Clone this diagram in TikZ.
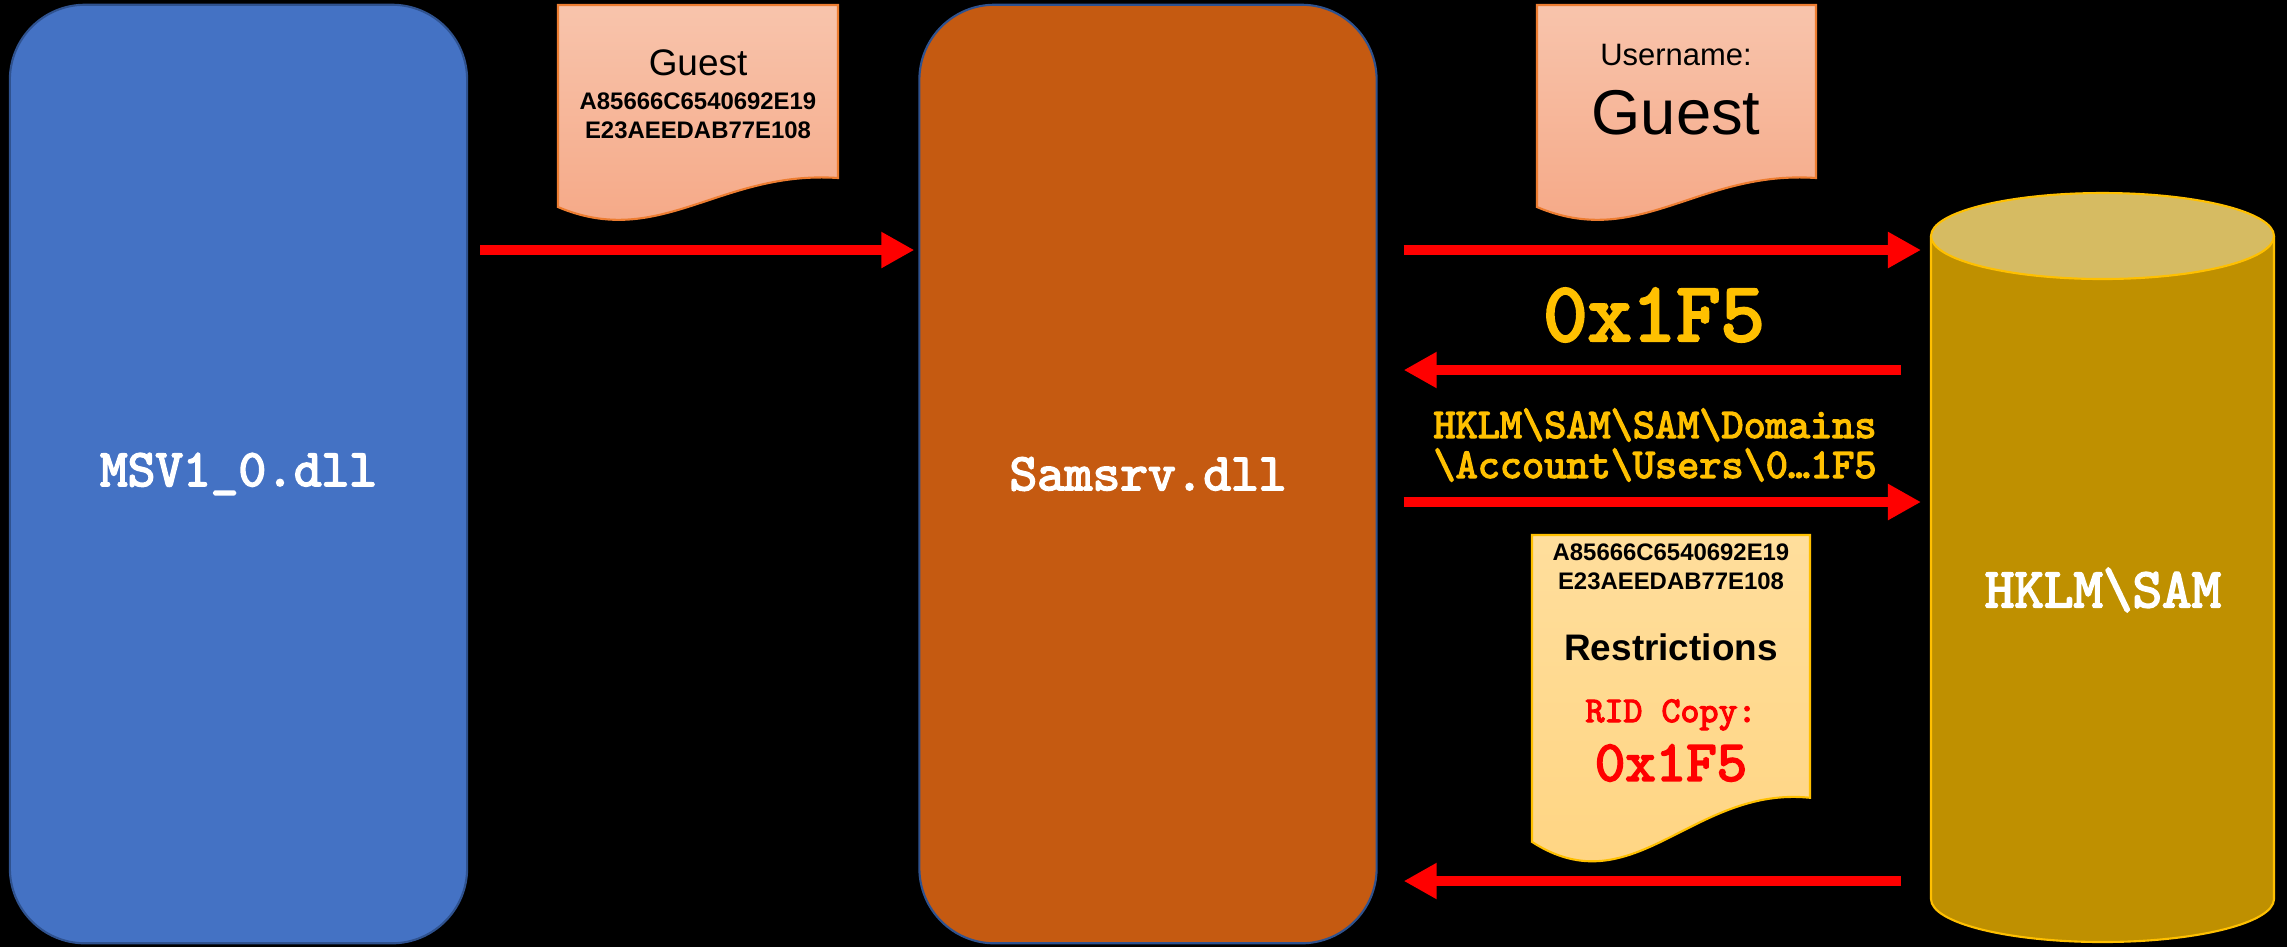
\documentclass[tikz,border=0pt]{standalone}
\usepackage{fontspec}
\setmainfont{Liberation Sans}
\newfontfamily\monobold{lmmono10-regular.otf}[FakeBold=3.2]
\usetikzlibrary{arrows.meta}

\definecolor{msvblue}{HTML}{4472C4}
\definecolor{boxedge}{HTML}{2F528F}
\definecolor{samorange}{HTML}{C55A11}
\definecolor{notetop}{HTML}{F8C4AC}
\definecolor{notebottom}{HTML}{F5A683}
\definecolor{noteedge}{HTML}{ED7D31}
\definecolor{ridtop}{HTML}{FFDE9C}
\definecolor{ridbottom}{HTML}{FFD480}
\definecolor{goldedge}{HTML}{FFC000}
\definecolor{cylbody}{HTML}{BF9000}
\definecolor{cyltop}{HTML}{D6BB62}
\definecolor{keyyellow}{HTML}{FFC000}
\definecolor{arrowred}{HTML}{FF0000}

\tikzset{every path/.style={line width=0.6pt}}
\tikzset{
  dllbox/.style={draw=boxedge, rounded corners=0.75cm, minimum width=4.57cm,
    minimum height=9.38cm, text=white, font=\monobold\fontsize{15}{18}\selectfont},
  flow/.style={draw=arrowred, line width=3.1pt, -{Triangle[length=0.33cm,width=0.34cm]}},
  hashtxt/.style={font=\bfseries\fontsize{6.8}{8}\selectfont, inner sep=0pt},
  pathtxt/.style={text=keyyellow, font=\monobold\fontsize{12}{14}\selectfont, inner sep=0pt}
}

% document sheet: left, top, width, height (to lowest point of the wave), style
\newcommand\docsheet[5]{%
  \begin{scope}[shift={(#1,#2)},x={(#3*0.01cm,0cm)},y={(0cm,-#4*0.01cm)}]
    \shadedraw[#5] (0,0) -- (1,0) -- (1,0.816) .. controls (0.579,0.778) and (0.364,1.156) .. (0,0.953) -- cycle;
  \end{scope}}

\begin{document}
\begin{tikzpicture}[x=0.01cm,y=-0.01cm]
\fill[black] (0,0) rectangle (2287,947);
\useasboundingbox (0,0) rectangle (2287,947);

\node[dllbox, fill=msvblue] (msv) at (238.5,474) {MSV1\_0.dll};
\node[dllbox, fill=samorange] (samsrv) at (1148,474) {Samsrv.dll};

% SAM hive
\fill[cylbody] (1931,236) -- (1931,899) arc[start angle=180,end angle=0,x radius=171.5,y radius=43] -- (2274,236) -- cycle;
\draw[goldedge] (1931,236) -- (1931,899) arc[start angle=180,end angle=0,x radius=171.5,y radius=43] -- (2274,236);
\filldraw[fill=cyltop, draw=goldedge] (2102.5,236) ellipse[x radius=171.5,y radius=43];
\coordinate (hive) at (1931,474);
\node[text=white, font=\monobold\fontsize{16}{18}\selectfont] (sam) at (2103,590) {HKLM\textbackslash SAM};

% notes
\docsheet{558}{5}{280}{212}{top color=notetop, bottom color=notebottom, draw=noteedge}
\node[font=\fontsize{10.5}{12}\selectfont] (guest) at (698,63) {Guest};
\node[hashtxt] (hasha) at (698,101) {A85666C6540692E19};
\node[hashtxt] (hashb) at (698,130) {E23AEEDAB77E108};

\docsheet{1537}{5}{279}{212}{top color=notetop, bottom color=notebottom, draw=noteedge}
\node[font=\fontsize{8.8}{10}\selectfont] (uname) at (1676,55) {Username:};
\node[font=\fontsize{18}{20}\selectfont] (uguest) at (1676,113) {Guest};

\docsheet{1532}{535}{278}{322}{top color=ridtop, bottom color=ridbottom, draw=goldedge}
\node[hashtxt] (rhasha) at (1671,552) {A85666C6540692E19};
\node[hashtxt] (rhashb) at (1671,581) {E23AEEDAB77E108};
\node[font=\bfseries\fontsize{10.5}{12}\selectfont] (restr) at (1671,647) {Restrictions};
\node[text=arrowred, font=\monobold\fontsize{10.3}{12}\selectfont, anchor=base] (ridcopy) at (1671,722) {RID Copy:};
\node[text=arrowred, font=\monobold\fontsize{16.5}{18}\selectfont] (ridval) at (1671,763) {0x1F5};

% labels between Samsrv and the hive
\node[text=keyyellow, font=\monobold\fontsize{24}{26}\selectfont] (rid) at (1654,315) {0x1F5};
\node[pathtxt] (keya) at (1655,425) {HKLM\textbackslash SAM\textbackslash SAM\textbackslash Domains};
\node[pathtxt] (keyb) at (1655,465) {\textbackslash Account\textbackslash Users\textbackslash 0…1F5};

% flows
\draw[flow, shorten <=0.12cm, shorten >=0.04cm] (msv.east |- 0,250) -- (samsrv.west |- 0,250);
\draw[flow, shorten <=0.26cm, shorten >=0.1cm] (samsrv.east |- 0,250) -- (hive |- 0,250);
\draw[flow, shorten <=0.3cm, shorten >=0.26cm] (hive |- 0,370) -- (samsrv.east |- 0,370);
\draw[flow, shorten <=0.26cm, shorten >=0.1cm] (samsrv.east |- 0,502) -- (hive |- 0,502);
\draw[flow, shorten <=0.3cm, shorten >=0.26cm] (hive |- 0,881) -- (samsrv.east |- 0,881);

\end{tikzpicture}
\end{document}
